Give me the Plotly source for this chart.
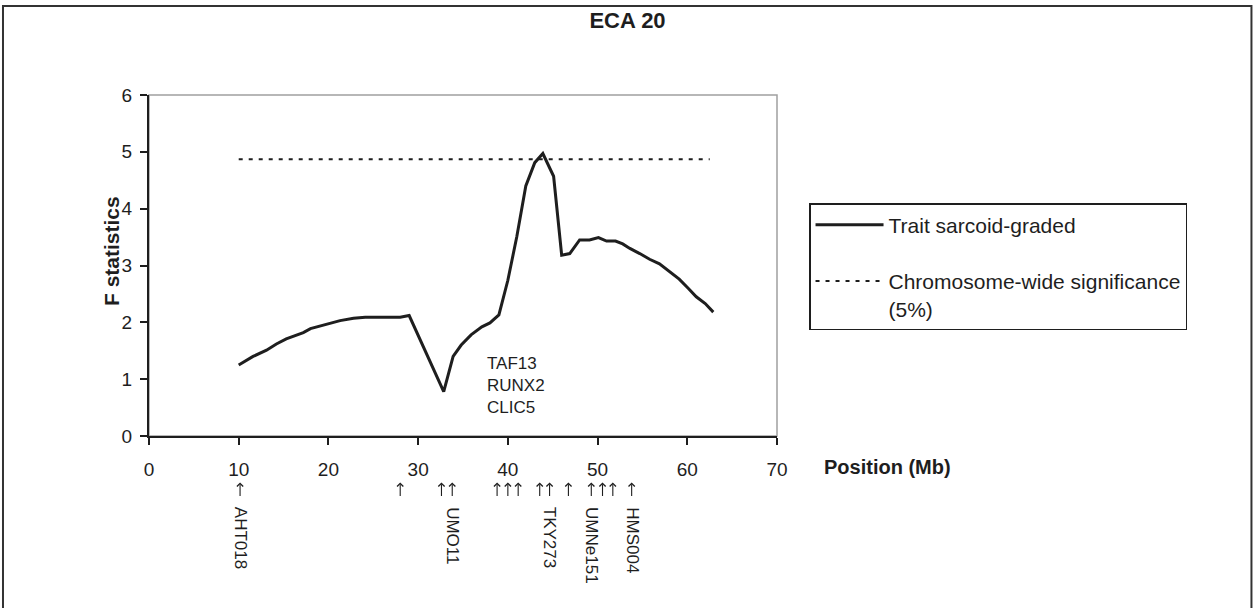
import plotly.graph_objects as go

# F statistic curve (Position in Mb, F value)
positions = [10.0, 11.6, 13.1, 14.2, 15.3, 16.4, 17.2, 18.0, 18.7, 20.0, 21.3, 22.8, 24.1, 28.0, 29.0,
             32.85, 33.9, 34.8, 35.9, 37.1, 38.0, 39.0, 40.0, 41.0, 42.0, 43.0, 43.9, 45.1, 46.0,
             46.9, 48.0, 49.1, 50.1, 51.0, 52.0, 52.8, 53.6, 54.7, 55.8, 56.9, 58.0, 59.1, 60.1,
             61.0, 62.0, 62.9]
f_stat = [1.25, 1.40, 1.51, 1.62, 1.71, 1.78, 1.82, 1.89, 1.92, 1.98, 2.03, 2.07, 2.09, 2.09, 2.12,
          0.78, 1.40, 1.60, 1.78, 1.92, 1.99, 2.13, 2.74, 3.51, 4.40, 4.81, 4.97, 4.57, 3.18,
          3.21, 3.45, 3.45, 3.49, 3.43, 3.43, 3.38, 3.30, 3.21, 3.11, 3.03, 2.89, 2.76, 2.60,
          2.45, 2.33, 2.18]

# chromosome-wide 5% significance threshold
threshold_x = [10.0, 62.5]
threshold_y = [4.87, 4.87]

# marker positions (Mb) shown by arrows under the axis
marker_pos = [10.15, 28.0, 32.6, 33.8, 38.8, 40.0, 41.15, 43.55, 44.65, 46.75, 49.3, 50.55, 51.7, 53.8]
marker_names = ["AHT018", "UMO11", "TKY273", "UMNe151", "HMS004"]
marker_name_pos = [10.15, 33.8, 44.65, 49.3, 53.8]

genes = ["TAF13", "RUNX2", "CLIC5"]
gene_pos = (37.45, 0.88)

x_ticks = [0, 10, 20, 30, 40, 50, 60, 70]
y_ticks = [0, 1, 2, 3, 4, 5, 6]

FONT = "Liberation Sans, Arial, sans-serif"
INK = "#1e1e1e"

fig = go.Figure()
fig.add_trace(go.Scatter(x=positions, y=f_stat, mode="lines", name="Trait sarcoid-graded",
                         line=dict(color=INK, width=3), legendgroup="a"))
fig.add_trace(go.Scatter(x=threshold_x, y=threshold_y, mode="lines",
                         name="Chromosome-wide significance<br>(5%)",
                         line=dict(color=INK, width=2, dash="4px,6px"), legendgroup="b"))

annotations = []
for p in marker_pos:
    annotations.append(dict(x=p, y=-0.136, xref="x", yref="paper", text="", showarrow=True,
                            ax=0, ay=15, arrowhead=4, arrowsize=1.1, arrowwidth=1.1,
                            arrowcolor=INK))
for name, p in zip(marker_names, marker_name_pos):
    annotations.append(dict(x=p, y=-0.202, xref="x", yref="paper", text=name, showarrow=False,
                            textangle=90, font=dict(family=FONT, size=17, color=INK),
                            xanchor="center", yanchor="top"))
annotations.append(dict(x=gene_pos[0], y=gene_pos[1], xref="x", yref="y", text="<br>".join(genes),
                        showarrow=False, align="left", xanchor="left", yanchor="middle",
                        font=dict(family=FONT, size=17, color=INK)))
annotations.append(dict(x=1.072, y=-0.091, xref="paper", yref="paper", text="<b>Position (Mb)</b>",
                        showarrow=False, xanchor="left", yanchor="middle",
                        font=dict(family=FONT, size=20, color=INK)))
annotations.append(dict(x=-0.0605, y=0.5425, xref="paper", yref="paper", text="<b>F statistics</b>",
                        showarrow=False, textangle=-90, xanchor="center", yanchor="middle",
                        font=dict(family=FONT, size=21, color=INK)))

shapes = [
    dict(type="rect", xref="paper", yref="paper", x0=0, x1=1, y0=0, y1=1,
         line=dict(color="#a0a0a0", width=1.5), layer="below"),
    dict(type="rect", xref="paper", yref="paper", x0=-0.2325, x1=1.7555, y0=-0.52, y1=1.261,
         line=dict(color="#333333", width=2), layer="below"),
]

fig.update_layout(
    width=1255, height=608,
    margin=dict(l=149, r=478, t=95, b=172),
    paper_bgcolor="white", plot_bgcolor="white",
    title=dict(text="<b>ECA 20</b>", x=0.5, xanchor="center", y=1 - 20 / 608, yanchor="middle",
               yref="container", font=dict(family=FONT, size=22, color=INK)),
    xaxis=dict(range=[0, 70], tickvals=x_ticks, showgrid=False, zeroline=False,
               showline=True, linecolor=INK, linewidth=2, ticks="outside", ticklen=7,
               tickwidth=1.5, tickcolor=INK, ticklabelstandoff=8,
               tickfont=dict(family=FONT, size=19, color=INK)),
    yaxis=dict(range=[0, 6], tickvals=y_ticks, showgrid=False, zeroline=False,
               showline=True, linecolor=INK, linewidth=2, ticks="outside", ticklen=7,
               tickwidth=1.5, tickcolor=INK, ticklabelstandoff=4,
               tickfont=dict(family=FONT, size=19, color=INK)),
    legend=dict(x=1.051, y=0.683, xanchor="left", yanchor="top", bordercolor=INK, borderwidth=1.5,
                font=dict(family=FONT, size=21, color=INK), itemwidth=68, valign="top",
                traceorder="grouped", tracegroupgap=26, bgcolor="white"),
    showlegend=True,
    annotations=annotations,
    shapes=shapes,
)

fig.write_html("out.html", config={"displayModeBar": False},
               post_script="document.body.style.margin='0';")
